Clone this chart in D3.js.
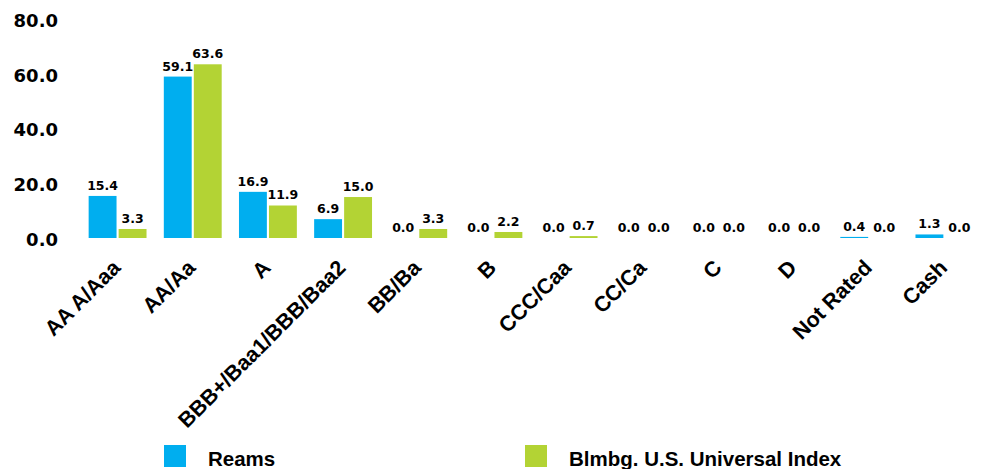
<!DOCTYPE html>
<html>
<head>
  <meta charset="utf-8">
  <script src="https://d3js.org/d3.v7.min.js"></script>
  <style>
    body { margin: 0; background: #fff; }
    svg text { fill: #000; }
  </style>
</head>
<body>
  <div id="chart"></div>

  <script>
    // data
    var categories = ["AA A/Aaa", "AA/Aa", "A", "BBB+/Baa1/BBB/Baa2", "BB/Ba", "B", "CCC/Caa", "CC/Ca", "C", "D", "Not Rated", "Cash"];
    var seriesNames = ["Reams", "Blmbg. U.S. Universal Index"];
    var reams = [15.4, 59.1, 16.9, 6.9, 0.0, 0.0, 0.0, 0.0, 0.0, 0.0, 0.4, 1.3];
    var index = [3.3, 63.6, 11.9, 15.0, 3.3, 2.2, 0.7, 0.0, 0.0, 0.0, 0.0, 0.0];
    var yTicks = [0, 20, 40, 60, 80];
    var colors = ["#00aeef", "#b3d334"];

    var width = 985, height = 469;

    var svg = d3.select("#chart").append("svg")
      .attr("width", width).attr("height", height);

    var x0 = d3.scaleBand().domain(categories).range([80, 982])
      .paddingInner(0.23).paddingOuter(0.115);
    var x1 = d3.scaleBand().domain(seriesNames).range([0, x0.bandwidth()]).paddingInner(0.07);
    var y = d3.scaleLinear().domain([0, 80]).range([238, 19.5]);

    var fmt = d3.format(".1f");

    // y axis labels only, no line and no ticks
    var yAxis = svg.append("g")
      .attr("transform", "translate(58,0)")
      .call(d3.axisLeft(y).tickValues(yTicks).tickFormat(fmt).tickSize(0).tickPadding(0));
    yAxis.select(".domain").remove();
    yAxis.selectAll("text")
      .attr("dy", "0.4em")
      .style("font-family", "'DejaVu Sans', sans-serif")
      .style("font-weight", "bold")
      .style("font-size", "18px")
      .style("fill", "#000");

    var rows = categories.map(function(c, i) {
      return { cat: c, values: [reams[i], index[i]] };
    });

    var groups = svg.selectAll("g.cat").data(rows).enter().append("g")
      .attr("class", "cat")
      .attr("transform", function(d) { return "translate(" + x0(d.cat) + ",0)"; });

    groups.selectAll("rect").data(function(d) {
      return d.values.map(function(v, j) { return { s: seriesNames[j], v: v, j: j }; });
    }).enter().append("rect")
      .attr("x", function(d) { return x1(d.s); })
      .attr("y", function(d) { return y(d.v); })
      .attr("width", x1.bandwidth())
      .attr("height", function(d) { return y(0) - y(d.v); })
      .style("fill", function(d) { return colors[d.j]; });

    groups.selectAll("text.val").data(function(d) {
      return d.values.map(function(v, j) { return { s: seriesNames[j], v: v, j: j }; });
    }).enter().append("text")
      .attr("class", "val")
      .attr("x", function(d) { return x1(d.s) + x1.bandwidth() / 2; })
      .attr("y", function(d) { return y(d.v) - 6; })
      .attr("text-anchor", "middle")
      .style("font-family", "'DejaVu Sans', sans-serif")
      .style("font-weight", "bold")
      .style("font-size", "12.5px")
      .text(function(d) { return fmt(d.v); });

    // rotated category labels
    svg.selectAll("text.cat").data(categories).enter().append("text")
      .attr("class", "cat")
      .attr("text-anchor", "end")
      .attr("transform", function(d) {
        return "translate(" + (x0(d) + x0.bandwidth() / 2 + 4) + ",269) rotate(-45)";
      })
      .style("font-family", "'Liberation Sans', Arial, sans-serif")
      .style("font-weight", "bold")
      .style("font-size", "21.5px")
      .text(function(d) { return d; });

    // legend
    var legendX = [164, 525];
    var legend = svg.selectAll("g.legend").data(seriesNames).enter().append("g")
      .attr("class", "legend")
      .attr("transform", function(d, i) { return "translate(" + legendX[i] + ",445)"; });
    legend.append("rect")
      .attr("width", 22).attr("height", 22)
      .style("fill", function(d, i) { return colors[i]; });
    legend.append("text")
      .attr("x", 44).attr("y", 21)
      .style("font-family", "'Liberation Sans', Arial, sans-serif")
      .style("font-weight", "bold")
      .style("font-size", "20.5px")
      .text(function(d) { return d; });
  </script>
</body>
</html>
